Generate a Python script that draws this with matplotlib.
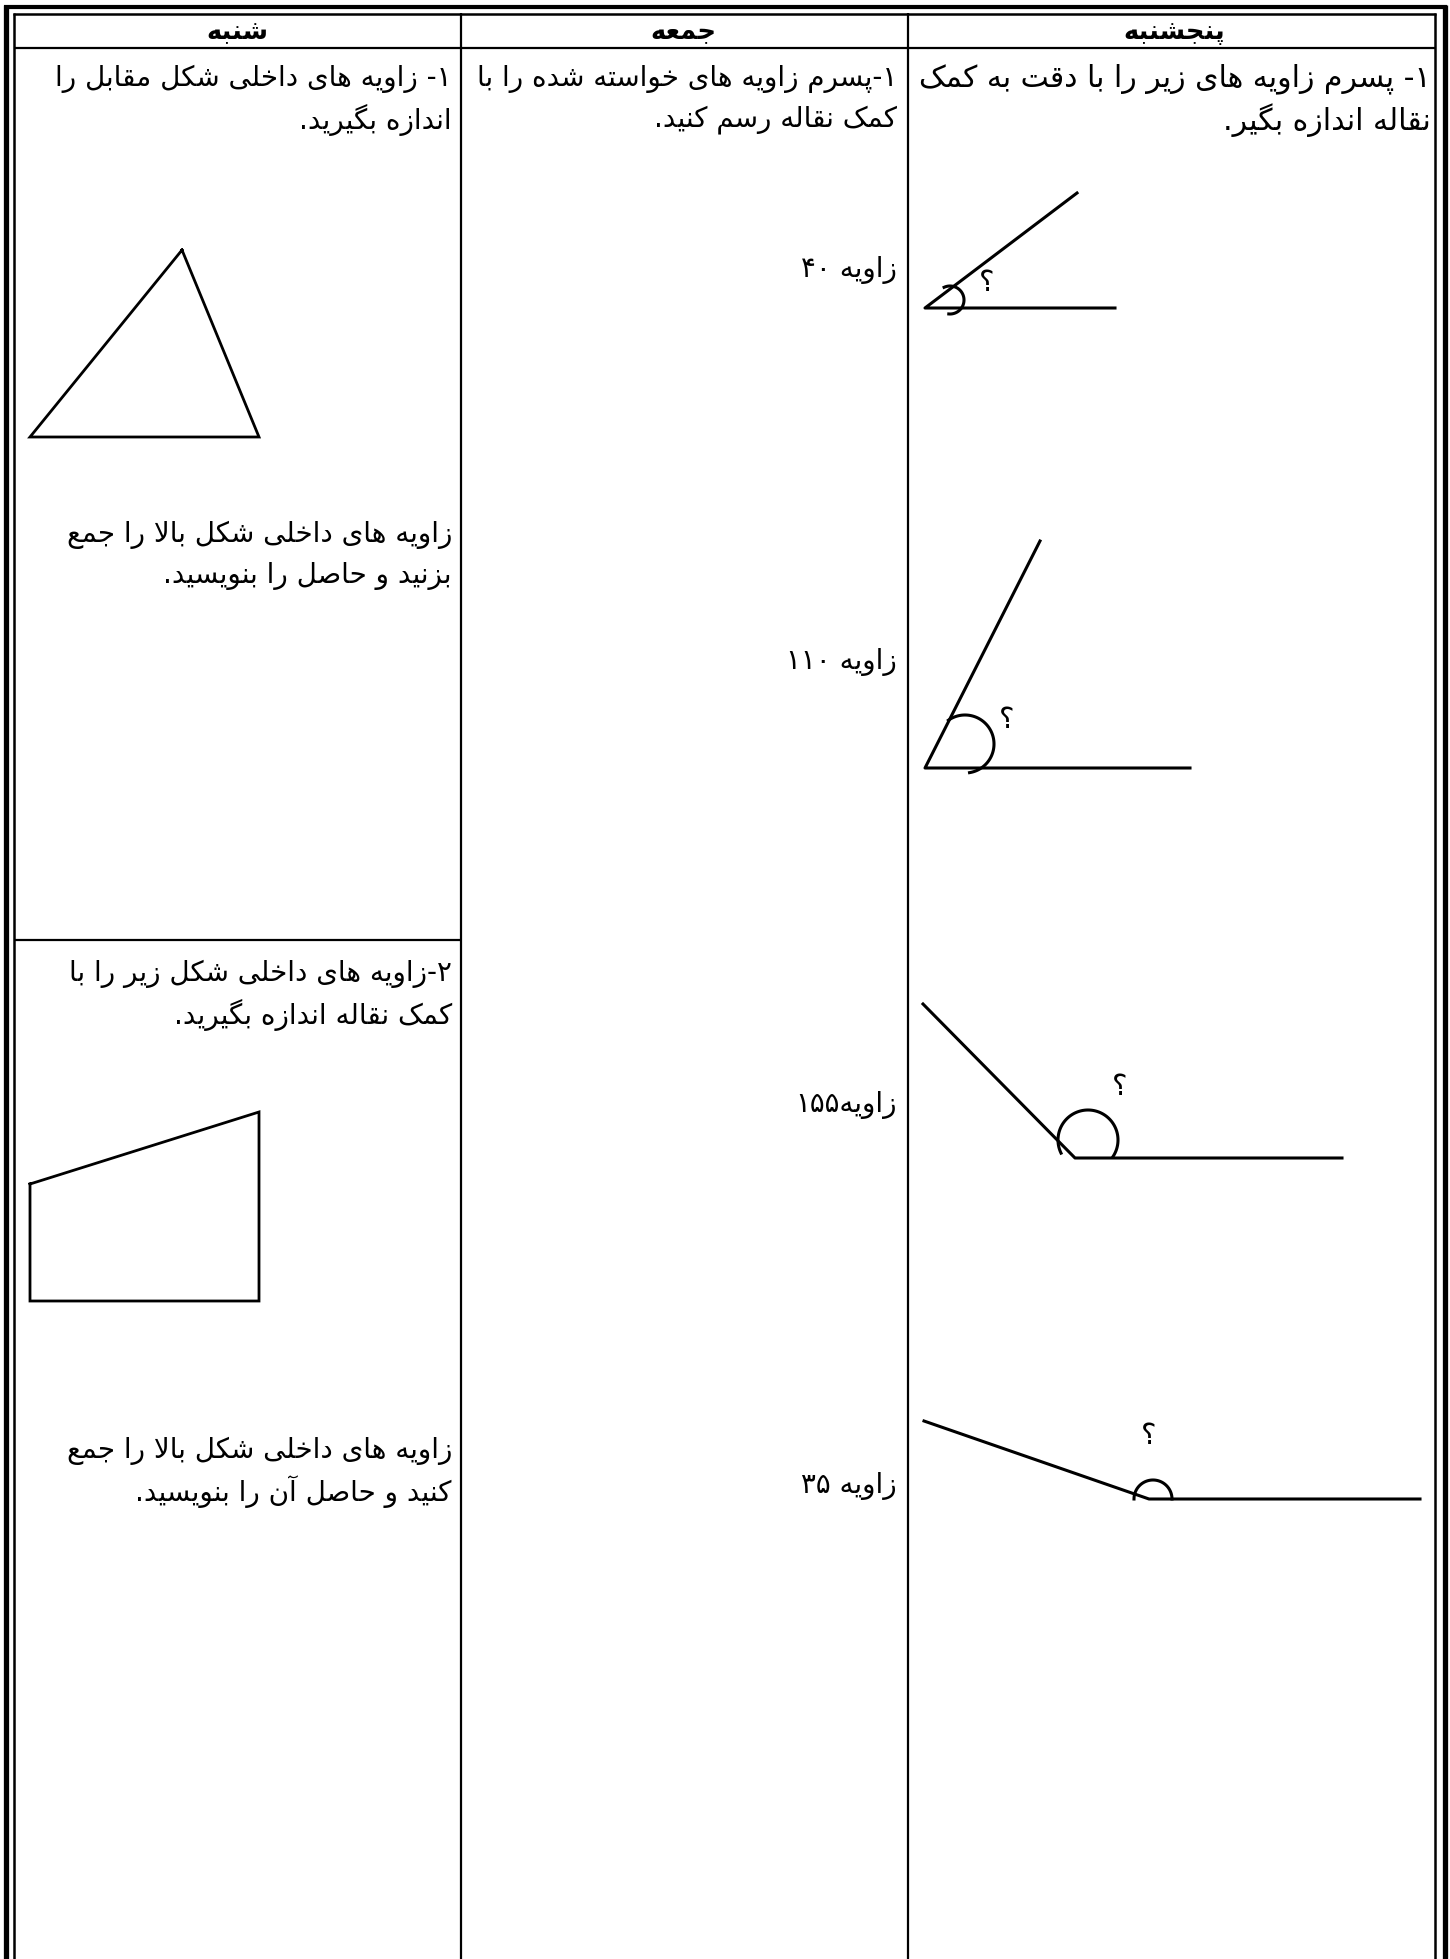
import re
import numpy as np
import matplotlib
matplotlib.use("Agg")
import matplotlib.pyplot as plt

plt.rcParams['font.family'] = ['DejaVu Sans']

# --- Persian shaping (matplotlib has no RTL / joining support) ---
FORMS = {
    'ا': ('\uFE8D', '\uFE8E'), 'آ': ('\uFE81', '\uFE82'),
    'د': ('\uFEA9', '\uFEAA'), 'ذ': ('\uFEAB', '\uFEAC'),
    'ر': ('\uFEAD', '\uFEAE'), 'ز': ('\uFEAF', '\uFEB0'),
    'ژ': ('\uFB8A', '\uFB8B'), 'و': ('\uFEED', '\uFEEE'),
    'ب': ('\uFE8F', '\uFE90', '\uFE91', '\uFE92'),
    'پ': ('\uFB56', '\uFB57', '\uFB58', '\uFB59'),
    'ت': ('\uFE95', '\uFE96', '\uFE97', '\uFE98'),
    'ث': ('\uFE99', '\uFE9A', '\uFE9B', '\uFE9C'),
    'ج': ('\uFE9D', '\uFE9E', '\uFE9F', '\uFEA0'),
    'چ': ('\uFB7A', '\uFB7B', '\uFB7C', '\uFB7D'),
    'ح': ('\uFEA1', '\uFEA2', '\uFEA3', '\uFEA4'),
    'خ': ('\uFEA5', '\uFEA6', '\uFEA7', '\uFEA8'),
    'س': ('\uFEB1', '\uFEB2', '\uFEB3', '\uFEB4'),
    'ش': ('\uFEB5', '\uFEB6', '\uFEB7', '\uFEB8'),
    'ص': ('\uFEB9', '\uFEBA', '\uFEBB', '\uFEBC'),
    'ط': ('\uFEC1', '\uFEC2', '\uFEC3', '\uFEC4'),
    'ع': ('\uFEC9', '\uFECA', '\uFECB', '\uFECC'),
    'ف': ('\uFED1', '\uFED2', '\uFED3', '\uFED4'),
    'ق': ('\uFED5', '\uFED6', '\uFED7', '\uFED8'),
    'ک': ('\uFB8E', '\uFB8F', '\uFB90', '\uFB91'),
    'گ': ('\uFB92', '\uFB93', '\uFB94', '\uFB95'),
    'ل': ('\uFEDD', '\uFEDE', '\uFEDF', '\uFEE0'),
    'م': ('\uFEE1', '\uFEE2', '\uFEE3', '\uFEE4'),
    'ن': ('\uFEE5', '\uFEE6', '\uFEE7', '\uFEE8'),
    'ه': ('\uFEE9', '\uFEEA', '\uFEEB', '\uFEEC'),
    'ی': ('\uFBFC', '\uFBFD', '\uFBFE', '\uFBFF'),
}
LAM_ALEF = {'ا': ('\uFEFB', '\uFEFC'), 'آ': ('\uFEF5', '\uFEF6')}


def joins_next(c):
    return c in FORMS and len(FORMS[c]) == 4


def shape(s):
    out = []
    i = 0
    while i < len(s):
        c = s[i]
        if c not in FORMS:
            out.append(c)
            i += 1
            continue
        jp = i > 0 and joins_next(s[i - 1])
        if c == 'ل' and i + 1 < len(s) and s[i + 1] in LAM_ALEF:
            out.append(LAM_ALEF[s[i + 1]][1 if jp else 0])
            i += 2
            continue
        jn = joins_next(c) and i + 1 < len(s) and s[i + 1] in FORMS
        f = FORMS[c]
        out.append(f[3] if jp and jn else f[1] if jp else f[2] if jn else f[0])
        i += 1
    return ''.join(out)


def rtl(s):
    v = shape(s)[::-1]
    return re.sub(r'[\u06F0-\u06F90-9]+', lambda m: m.group(0)[::-1], v)


# --- content ---
headers = ['شنبه', 'جمعه', 'پنجشنبه']
header_x = [237, 683, 1174]

left_lines = ['۱- زاویه های داخلی شکل مقابل را', 'اندازه بگیرید.',
              'زاویه های داخلی شکل بالا را جمع', 'بزنید و حاصل را بنویسید.',
              '۲-زاویه های داخلی شکل زیر را با', 'کمک نقاله اندازه بگیرید.',
              'زاویه های داخلی شکل بالا را جمع', 'کنید و حاصل آن را بنویسید.']
left_y = [79, 120, 535, 576, 974, 1015, 1451, 1492]

mid_lines = ['۱-پسرم زاویه های خواسته شده را با', 'کمک نقاله رسم کنید.',
             'زاویه ۴۰', 'زاویه ۱۱۰', 'زاویه۱۵۵', 'زاویه ۳۵']
mid_y = [79, 120, 270, 662, 1105, 1486]

right_lines = ['۱- پسرم زاویه های زیر را با دقت به کمک', 'نقاله اندازه بگیر.']
right_y = [79, 120]

# shapes in the left column
triangle = [(182, 250), (30, 437), (259, 437)]
quad = [(30, 1184), (259, 1112), (259, 1301), (30, 1301)]

# angles in the right column
vertex = [(925, 308), (925, 768), (1075, 1158), (1149, 1499)]
ray_end = [(1077, 193), (1040, 541), (923, 1004), (924, 1421)]
base_end = [(1115, 308), (1190, 768), (1342, 1158), (1420, 1499)]
arc_c = [(950, 300), (965, 744), (1088, 1140), (1153, 1499)]
arc_r = [14, 29, 30, 19]
arc_t = [(-95, 115), (-81, 125), (-34, 206), (0, 180)]
qmark = [(987, 283), (1007, 720), (1120, 1087), (1149, 1436)]

W, H = 1450, 1959
fig = plt.figure(figsize=(W / 100, H / 100), dpi=100)
ax = fig.add_axes([0, 0, 1, 1])
ax.set_xlim(0, W)
ax.set_ylim(H, 0)
ax.axis('off')

k = dict(color='black', solid_capstyle='butt')
# double frame
ax.plot([6, 6], [5, H], lw=3.8, **k)
ax.plot([4, 1447], [7, 7], lw=3.0, **k)
ax.plot([1445, 1445], [5, H], lw=3.8, **k)
ax.plot([14, 14], [13, H], lw=1.8, **k)
ax.plot([13, 1436], [13.5, 13.5], lw=1.8, **k)
ax.plot([1435, 1435], [13, H], lw=1.8, **k)
# grid
ax.plot([14, 1435], [48, 48], lw=1.6, **k)
ax.plot([461, 461], [13, H], lw=1.6, **k)
ax.plot([908, 908], [13, H], lw=1.6, **k)
ax.plot([14, 461], [940, 940], lw=1.6, **k)

FS = 20
for t, x in zip(headers, header_x):
    ax.text(x, 32, rtl(t), ha='center', va='center', fontsize=18.5, fontweight='bold')
for t, y in zip(left_lines, left_y):
    ax.text(452, y, rtl(t), ha='right', va='center', fontsize=FS)
for t, y in zip(mid_lines, mid_y):
    ax.text(897, y, rtl(t), ha='right', va='center', fontsize=FS)
for t, y in zip(right_lines, right_y):
    ax.text(1431, y, rtl(t), ha='right', va='center', fontsize=21.5)

for poly in (triangle, quad):
    xs = [p[0] for p in poly] + [poly[0][0]]
    ys = [p[1] for p in poly] + [poly[0][1]]
    ax.plot(xs, ys, lw=2.0, color='black', solid_joinstyle='miter')

for v, r1, b, c, r, (t0, t1), q in zip(vertex, ray_end, base_end, arc_c, arc_r, arc_t, qmark):
    ax.plot([r1[0], v[0], b[0]], [r1[1], v[1], b[1]], lw=2.2, color='black')
    t = np.radians(np.linspace(t0, t1, 80))
    ax.plot(c[0] + r * np.cos(t), c[1] - r * np.sin(t), lw=2.2, color='black')
    ax.text(q[0], q[1], '\u061F', ha='center', va='center', fontsize=21)

fig.savefig('out.png', dpi=100)
